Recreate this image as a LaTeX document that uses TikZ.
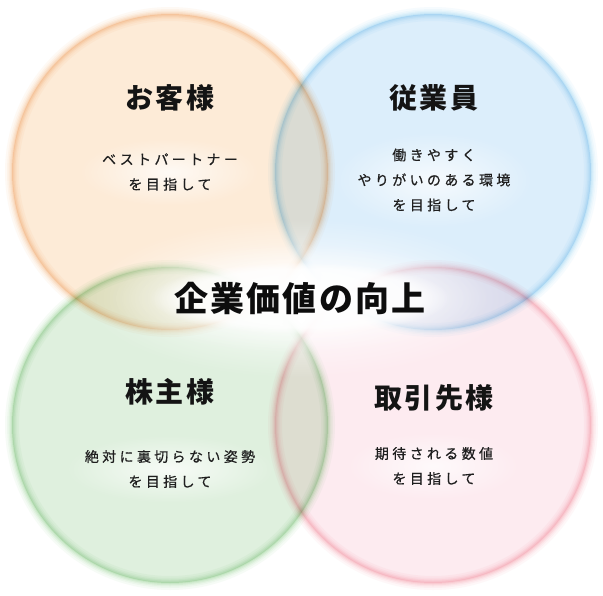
\documentclass[tikz,border=0pt]{standalone}
\usepackage{fontspec}
\usetikzlibrary{fadings}
\newfontfamily\titlefont[LetterSpace=8]{Noto Sans CJK JP}
\newfontfamily\mainfontjp[LetterSpace=6]{Noto Sans CJK JP}
\newfontfamily\subfont[LetterSpace=24,FakeBold=0.6]{Noto Sans CJK JP}
\definecolor{ofill}{HTML}{FDEBD7}
\definecolor{bfill}{HTML}{DCEEFB}
\definecolor{gfill}{HTML}{DFF0DE}
\definecolor{pfill}{HTML}{FDEBF0}
\definecolor{oring}{HTML}{F4B170}
\definecolor{bring}{HTML}{8AD0F2}
\definecolor{gring}{HTML}{8CD088}
\definecolor{pring}{HTML}{F693A2}
\tikzfading[name=softglow, inner color=transparent!0, outer color=transparent!100]
\tikzset{
  title/.style={font=\titlefont\bfseries\fontsize{28}{30}\selectfont, text=black!92, inner sep=0pt},
  maintitle/.style={font=\mainfontjp\bfseries\fontsize{34}{36}\selectfont, text=black!95, inner sep=0pt},
  subtext/.style={font=\subfont\fontsize{14}{25}\selectfont, text=black!88, align=center, inner sep=0pt},
  halo/.style={fill=white, path fading=softglow, fill opacity=0.75},
}
\newcommand\glowcirc[4]{%
  \fill[#3] (#1,#2) circle (158);
  \foreach \w/\o in {14/0.07,10/0.08,7/0.10,4.5/0.13,2/0.14}
    \draw[#4, line width=\w, draw opacity=\o] (#1,#2) circle (158);
}
\begin{document}
\begin{tikzpicture}[x=1pt,y=-1pt]
\useasboundingbox (0,0) rectangle (603,595);
\fill[white] (0,0) rectangle (603,595);
\begin{scope}[blend group=multiply]
  \glowcirc{170}{172}{ofill}{oring}
  \glowcirc{433}{172}{bfill}{bring}
  \glowcirc{170}{425}{gfill}{gring}
  \glowcirc{433}{425}{pfill}{pring}
\end{scope}
% central white glow
\fill[white, path fading=softglow] (300,298) ellipse (215 and 80);
\fill[white, path fading=softglow] (300,298) ellipse (190 and 55);
\fill[white, path fading=circle with fuzzy edge 20 percent, fill opacity=0.7] (300,298) ellipse (150 and 36);
% halos behind subtexts
\fill[halo] (169,172) ellipse (90 and 34);
\fill[halo] (433,180) ellipse (100 and 48);
\fill[halo] (170,469) ellipse (105 and 34);
\fill[halo] (433,466) ellipse (88 and 34);
% texts
\node[title] (t1) at (170,98) {お客様};
\node[title] (t2) at (434,98) {従業員};
\node[title] (t3) at (170,392) {株主様};
\node[title] (t4) at (434,398) {取引先様};
\node[maintitle] (c) at (300,298) {企業価値の向上};
\node[subtext] (s1) at (170,172) {ベストパートナー\\を目指して};
\node[subtext] (s2) at (434,180) {働きやすく\\やりがいのある環境\\を目指して};
\node[subtext] (s3) at (170,469) {絶対に裏切らない姿勢\\を目指して};
\node[subtext] (s4) at (434,466) {期待される数値\\を目指して};
\end{tikzpicture}
\end{document}
